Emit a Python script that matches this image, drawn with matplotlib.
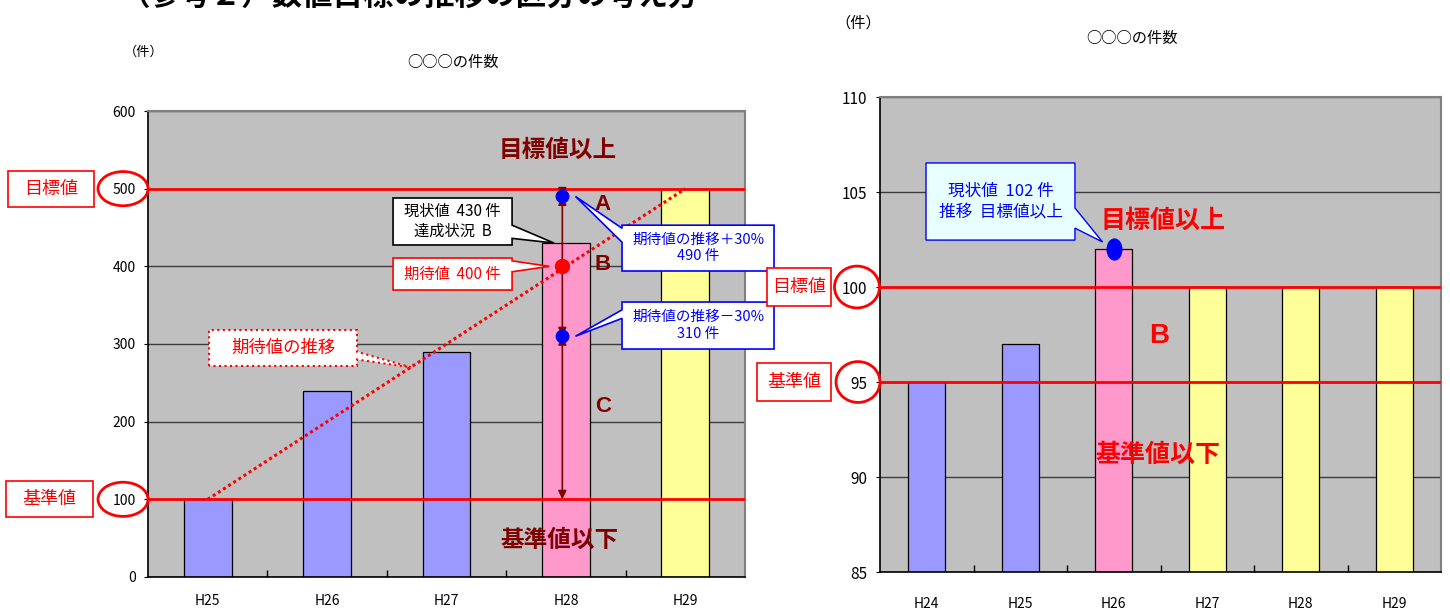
import matplotlib
matplotlib.use('Agg')
import matplotlib.pyplot as plt
from matplotlib.patches import Polygon, Rectangle, Ellipse
from matplotlib.transforms import blended_transform_factory
from matplotlib.path import Path
from matplotlib.transforms import Affine2D

plt.rcParams['font.family'] = ['Noto Sans CJK JP', 'DejaVu Sans']

# --- left chart data ---
left_years = ['H25', 'H26', 'H27', 'H28', 'H29']
left_counts = [100, 240, 290, 430, 500]
left_kinds = ['past', 'past', 'past', 'now', 'future']
left_target = 500
left_base = 100
expected_now = 400
expected_upper = 490
expected_lower = 310

# --- right chart data ---
right_years = ['H24', 'H25', 'H26', 'H27', 'H28', 'H29']
right_counts = [95, 97, 102, 100, 100, 100]
right_kinds = ['past', 'past', 'now', 'future', 'future', 'future']
right_target = 100
right_base = 95

bar_colors = {'past': '#9999FF', 'now': '#FF99CC', 'future': '#FFFF99'}
dark_red = '#800000'
ascii_font = ['Liberation Sans', 'DejaVu Sans']


def style_axes(ax, n, ymin, ymax, step, xpad):
    ax.set_facecolor('#C0C0C0')
    ax.set_xlim(-0.5, n - 0.5)
    ax.set_ylim(ymin, ymax)
    ax.set_yticks(range(ymin, ymax + 1, step))
    ax.set_xticks(range(n))
    ax.set_xticks([i + 0.5 for i in range(n - 1)], minor=True)
    ax.tick_params(axis='x', which='major', length=0, pad=xpad, labelsize=10)
    ax.tick_params(axis='x', which='minor', direction='in', length=5, width=1)
    ax.tick_params(axis='y', length=3, pad=6)
    ax.yaxis.grid(True, color='#3c3c3c', lw=1.0)
    ax.set_axisbelow(True)
    for s in ['left', 'bottom']:
        ax.spines[s].set_color('black')
        ax.spines[s].set_linewidth(1.2)
    for s in ['top', 'right']:
        ax.spines[s].set_color('#808080')
        ax.spines[s].set_linewidth(1.5)


def callout(ax, box, side, base, tip, text, fc, ec, tc, fs, ls='-', lw=1.2):
    # rectangle with a wedge-shaped pointer on its left or right edge
    x0, x1, y0, y1 = box
    b0, b1 = base
    pts = [(x0, y0)]
    if side == 'left':
        pts += [(x0, b0), tip, (x0, b1)]
    pts += [(x0, y1), (x1, y1)]
    if side == 'right':
        pts += [(x1, b1), tip, (x1, b0)]
    pts += [(x1, y0)]
    ax.add_patch(Polygon(pts, closed=True, fc=fc, ec=ec, ls=ls, lw=lw,
                         zorder=6, clip_on=False))
    ax.text((x0 + x1) / 2, (y0 + y1) / 2, text, ha='center', va='center',
            color=tc, fontsize=fs, zorder=7, linespacing=1.25)


def side_label(ax, text, y, box_x, box_h, ell_x, ell_w, ell_h):
    trans = blended_transform_factory(ax.transAxes, ax.transData)
    ax.add_patch(Rectangle((box_x[0], y - box_h / 2), box_x[1] - box_x[0], box_h,
                           transform=trans, fc='white', ec='red', lw=1.2,
                           clip_on=False, zorder=5))
    ax.text(sum(box_x) / 2, y, text, transform=trans, ha='center', va='center',
            color='red', fontsize=13, zorder=6)
    ax.add_patch(Ellipse((ell_x, y), ell_w, ell_h, transform=trans, fill=False,
                         ec='red', lw=2, clip_on=False, zorder=5))


fig = plt.figure(figsize=(14.5, 6.11), dpi=100)

fig.text(120 / 1450, 1 - 5 / 611, '（参考２）数値目標の推移の区分の考え方',
         fontsize=22, fontweight='bold', va='baseline', ha='left')

# ---------------- left chart ----------------
ax1 = fig.add_axes([0.1021, 0.0557, 0.4117, 0.7626])
style_axes(ax1, len(left_years), 0, 600, 100, 12)
ax1.bar(range(len(left_years)), left_counts, width=0.4,
        color=[bar_colors[k] for k in left_kinds], edgecolor='black', lw=0.9, zorder=2)
ax1.set_xticklabels(left_years)
ax1.tick_params(axis='y', labelsize=10)

ax1.axhline(left_target, color='red', lw=2, zorder=3)
ax1.axhline(left_base, color='red', lw=2, zorder=3)
ax1.plot([0, len(left_years) - 1], [left_base, left_target], color='red',
         lw=2.2, ls=(0, (1, 1)), zorder=3)

# range arrows on the current year
ax_x = 2.97
segments = [(left_target, expected_upper), (expected_upper, expected_lower),
            (expected_lower, left_base)]
for top, bottom in segments:
    ax1.annotate('', xy=(ax_x, bottom), xytext=(ax_x, top),
                 arrowprops=dict(arrowstyle='<|-|>,head_length=0.45,head_width=0.22',
                                 color=dark_red, lw=1.2, shrinkA=0, shrinkB=0,
                                 mutation_scale=11), zorder=4)
ax1.plot([ax_x, ax_x], [expected_upper, expected_lower], 'o', color='blue', ms=9, zorder=5)
ax1.plot(ax_x, expected_now, 'o', color='red', ms=10, zorder=5)

for txt, y in [('A', 479), ('B', 403), ('C', 220)]:
    ax1.text(3.31, y, txt, color=dark_red, fontsize=16, fontweight='bold',
             family=ascii_font, ha='center', va='center', zorder=4)
ax1.text(2.93, 550, '目標値以上', color=dark_red, fontsize=17, fontweight='bold',
         ha='center', va='center', zorder=4)
ax1.text(2.95, 48, '基準値以下', color=dark_red, fontsize=17, fontweight='bold',
         ha='center', va='center', zorder=4)

callout(ax1, (1.552, 2.549, 427.5, 488), 'right', (436, 453), (2.9, left_counts[3]),
        f'現状値  {left_counts[3]} 件\n達成状況  B', 'white', 'black', 'black', 11)
callout(ax1, (1.552, 2.549, 369.5, 410.7), 'right', (393, 407), (2.86, expected_now),
        f'期待値  {expected_now} 件', 'white', 'red', 'red', 11)
callout(ax1, (3.47, 4.743, 394, 453), 'left', (431, 449), (3.08, expected_upper),
        f'期待値の推移＋30%\n{expected_upper} 件', 'white', 'blue', 'blue', 10.5)
callout(ax1, (3.47, 4.743, 293.5, 354), 'left', (333, 344), (3.08, expected_lower),
        f'期待値の推移－30%\n{expected_lower} 件', 'white', 'blue', 'blue', 10.5)
callout(ax1, (0.011, 1.25, 271.7, 318), 'right', (280, 290), (1.7, 270),
        '期待値の推移', 'white', 'red', 'red', 12.5, ls=':', lw=1.5)

side_label(ax1, '目標値', left_target, (-0.2345, -0.0905), 46, -0.0419, 0.0838, 44)
side_label(ax1, '基準値', left_base, (-0.2379, -0.0921), 46, -0.0419, 0.0838, 44)

fig.text(144 / 1450, 1 - 52 / 611, '（件）', fontsize=9.5, ha='center', va='center')
fig.text(453 / 1450, 1 - 62 / 611, '○○○の件数', fontsize=11, ha='center', va='center')

# ---------------- right chart ----------------
ax2 = fig.add_axes([0.6069, 0.0638, 0.3869, 0.7774])
style_axes(ax2, len(right_years), 85, 110, 5, 18)
ax2.bar(range(len(right_years)), right_counts, width=0.4,
        color=[bar_colors[k] for k in right_kinds], edgecolor='black', lw=0.9, zorder=2)
ax2.set_xticklabels(right_years)
ax2.tick_params(axis='y', labelsize=11)

ax2.axhline(right_target, color='red', lw=2, zorder=3)
ax2.axhline(right_base, color='red', lw=2, zorder=3)

now_idx = right_kinds.index('now')
oval = Path.unit_circle().transformed(Affine2D().scale(0.7, 1.0))
ax2.plot(now_idx, right_counts[now_idx], marker=oval, color='blue', ms=15, ls='none', zorder=5)

callout(ax2, (-0.008, 1.585, 102.47, 106.53), 'right', (103.1, 104.16),
        (now_idx - 0.12, right_counts[now_idx] + 0.37),
        f'現状値  {right_counts[now_idx]} 件\n推移  目標値以上', '#E8FFFF', 'blue', 'blue', 12, lw=1.0)

ax2.text(2.53, 103.5, '目標値以上', color='red', fontsize=18, fontweight='bold',
         ha='center', va='center', zorder=4)
ax2.text(2.49, 97.4, 'B', color='red', fontsize=20, fontweight='bold',
         family=ascii_font, ha='center', va='center', zorder=4)
ax2.text(2.47, 91.16, '基準値以下', color='red', fontsize=18, fontweight='bold',
         ha='center', va='center', zorder=4)

side_label(ax2, '目標値', right_target, (-0.2014, -0.0873), 2.05, -0.041, 0.0802, 2.2)
side_label(ax2, '基準値', right_base, (-0.2193, -0.0873), 2.0, -0.0392, 0.0784, 2.15)

fig.text(858 / 1450, 1 - 23 / 611, '（件）', fontsize=11, ha='center', va='center')
fig.text(1132 / 1450, 1 - 38 / 611, '○○○の件数', fontsize=11, ha='center', va='center')

fig.savefig('out.png', dpi=100)
